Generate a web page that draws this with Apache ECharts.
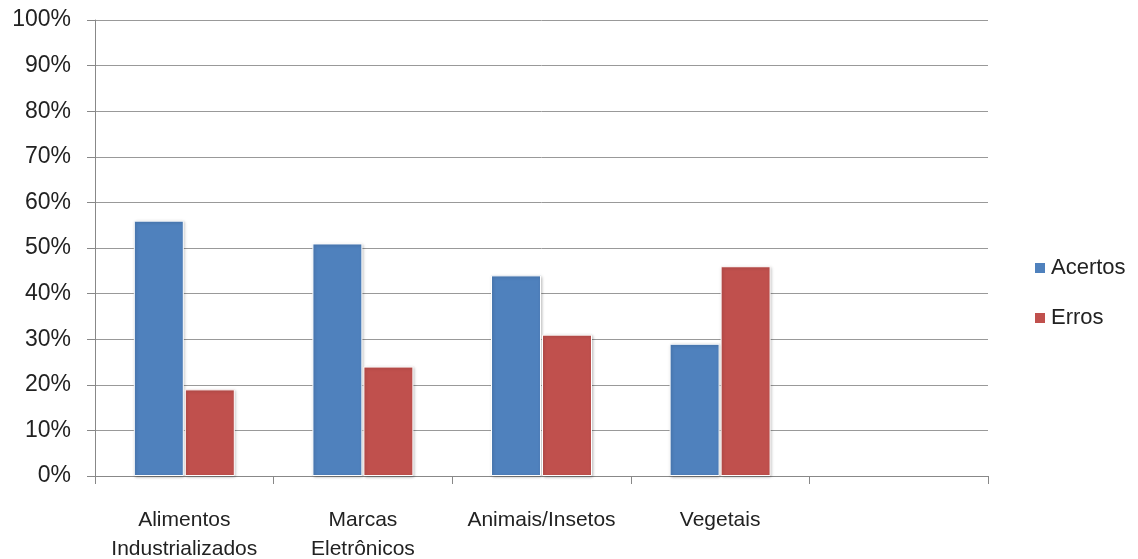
<!DOCTYPE html>
<html><head><meta charset="utf-8">
<script src="https://cdn.jsdelivr.net/npm/echarts@6/dist/echarts.min.js"></script>
<style>html,body{margin:0;padding:0;background:#fff;overflow:hidden}#c{width:1138px;height:559px}</style>
</head><body><div id="c"></div>
<script>
const categories = ["Alimentos\nIndustrializados", "Marcas\nEletrônicos", "Animais/Insetos", "Vegetais", ""];
const acertos = [56, 51, 44, 29, null];
const erros = [19, 24, 31, 46, null];
const yTicks = [0, 10, 20, 30, 40, 50, 60, 70, 80, 90, 100];

const chart = echarts.init(document.getElementById('c'), null, {width: 1138, height: 559});
const font = 'Liberation Sans, sans-serif';
const barStyle = (c) => ({color: c, borderColor: '#fff', borderWidth: 1, shadowColor: 'rgba(0,0,0,0.25)', shadowBlur: 3, shadowOffsetX: 1, shadowOffsetY: 1});
chart.setOption({
  animation: false,
  grid: {left: 95, top: 20, width: 893, height: 456, outerBoundsMode: 'none', containLabel: false},
  legend: {
    orient: 'vertical', left: 1033, top: 257, padding: 0, itemWidth: 12, itemHeight: 12, itemGap: 28, itemTextGap: 9,
    icon: 'rect',
    textStyle: {fontFamily: font, fontSize: 22, color: '#222'},
    data: ['Acertos', 'Erros']
  },
  xAxis: {
    type: 'category', data: categories,
    axisLine: {lineStyle: {color: '#888'}},
    axisTick: {show: true, length: 8, lineStyle: {color: '#888'}},
    axisLabel: {fontFamily: font, fontSize: 21, color: '#222', margin: 30, lineHeight: 29, interval: 0}
  },
  yAxis: {
    type: 'value', min: 0, max: 100, interval: 10,
    axisLine: {show: true, lineStyle: {color: '#888'}},
    axisTick: {show: true, length: 8, lineStyle: {color: '#888'}},
    splitLine: {lineStyle: {color: '#999'}},
    axisLabel: {fontFamily: font, fontSize: 23, color: '#222', margin: 24,
      formatter: v => yTicks.includes(v) ? v + '%' : ''}
  },
  series: [
    {name: 'Acertos', type: 'bar', data: acertos, barWidth: 50, barGap: '2%', itemStyle: barStyle('#4f81bd')},
    {name: 'Erros', type: 'bar', data: erros, barWidth: 50, barGap: '2%', itemStyle: barStyle('#c0504d')}
  ]
});
</script></body></html>
